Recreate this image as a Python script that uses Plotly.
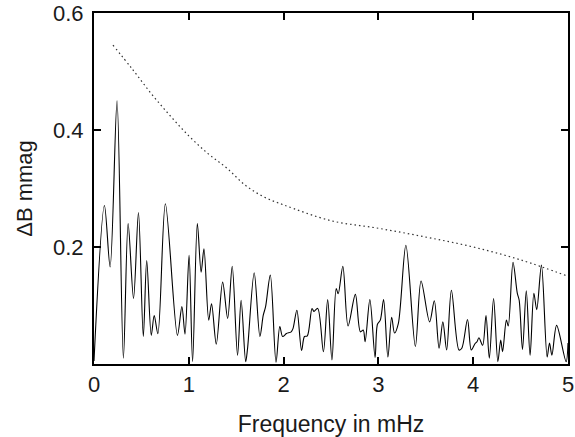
import plotly.graph_objects as go

# Amplitude spectrum (frequency in mHz, amplitude in mmag), traced extrema
freq = [0.0, 0.11, 0.17, 0.243, 0.31, 0.36, 0.417, 0.469, 0.52, 0.556, 0.604, 0.635, 0.674,
        0.753, 0.88, 0.927, 0.96, 1.003, 1.04, 1.09, 1.13, 1.16, 1.21, 1.24, 1.29,
        1.357, 1.41, 1.458, 1.514, 1.552, 1.60, 1.62, 1.69, 1.75, 1.785, 1.81, 1.86,
        1.92, 1.96, 1.99, 2.03, 2.08, 2.10, 2.14, 2.19, 2.22, 2.25, 2.30, 2.32, 2.36,
        2.42, 2.465, 2.51, 2.555, 2.576, 2.625, 2.68, 2.757, 2.81, 2.84, 2.86, 2.91,
        2.965, 2.99, 3.02, 3.055, 3.10, 3.14, 3.17, 3.21, 3.29, 3.39, 3.45, 3.54,
        3.59, 3.64, 3.68, 3.72, 3.77, 3.85, 3.88, 3.94, 3.98, 4.02, 4.04, 4.06, 4.10,
        4.135, 4.17, 4.215, 4.26, 4.29, 4.31, 4.35, 4.37, 4.42, 4.465, 4.485, 4.52,
        4.56, 4.60, 4.64, 4.67, 4.72, 4.78, 4.805, 4.83, 4.88, 4.98, 5.0]
amp = [0.005, 0.271, 0.166, 0.450, 0.010, 0.240, 0.112, 0.259, 0.047, 0.177, 0.049, 0.083, 0.052,
       0.274, 0.049, 0.098, 0.051, 0.186, 0.004, 0.240, 0.157, 0.197, 0.075, 0.103, 0.034,
       0.140, 0.078, 0.167, 0.015, 0.109, 0.004, 0.027, 0.156, 0.047, 0.083, 0.098, 0.152,
       0.003, 0.064, 0.047, 0.052, 0.055, 0.061, 0.092, 0.023, 0.047, 0.048, 0.095, 0.090, 0.095,
       0.021, 0.110, 0.007, 0.129, 0.120, 0.167, 0.065, 0.119, 0.055, 0.058, 0.038, 0.110,
       0.011, 0.068, 0.075, 0.110, 0.012, 0.080, 0.053, 0.069, 0.203, 0.030, 0.142, 0.072,
       0.108, 0.027, 0.072, 0.024, 0.126, 0.024, 0.027, 0.076, 0.024, 0.035, 0.038, 0.045, 0.032,
       0.083, 0.010, 0.112, 0.004, 0.041, 0.021, 0.075, 0.065, 0.174, 0.121, 0.109, 0.025,
       0.125, 0.015, 0.121, 0.093, 0.169, 0.012, 0.036, 0.015, 0.066, 0.004, 0.036]

# Significance threshold (dotted)
thr_freq = [0.2, 0.4, 0.6, 0.8, 1.0, 1.2, 1.4, 1.6, 1.8, 2.0, 2.5, 3.0, 3.5, 4.0, 4.5, 5.0]
thr_amp = [0.545, 0.505, 0.463, 0.425, 0.39, 0.36, 0.335, 0.305, 0.285, 0.272, 0.245,
           0.232, 0.217, 0.200, 0.178, 0.150]

x_ticks = [0, 1, 2, 3, 4, 5]
y_ticks = [0.2, 0.4, 0.6]

fig = go.Figure()
fig.add_trace(go.Scatter(x=freq, y=amp, mode="lines",
                         line=dict(color="black", width=1.1, shape="spline", smoothing=0.9),
                         showlegend=False, hoverinfo="skip"))
fig.add_trace(go.Scatter(x=thr_freq, y=thr_amp, mode="lines",
                         line=dict(color="#333333", width=1.2, dash="1.5px,3px", shape="spline"),
                         showlegend=False, hoverinfo="skip"))

fam = "Liberation Sans, Arial, sans-serif"
tick_font = dict(family=fam, size=22, color="#1a1a1a")
xtitle_font = dict(family=fam, size=23, color="#1a1a1a")
ytitle_font = dict(family=fam, size=22, color="#1a1a1a")
fig.update_layout(
    width=575, height=437,
    margin=dict(l=94, r=1, t=12, b=73),
    paper_bgcolor="white", plot_bgcolor="white",
    font=tick_font,
    xaxis=dict(range=[0, 5], tickvals=x_ticks, ticktext=[str(v) for v in x_ticks],
               ticks="inside", ticklen=7, tickwidth=1.5, tickcolor="black",
               showline=True, linecolor="black", linewidth=2, mirror="ticks",
               showgrid=False, zeroline=False, ticklabeloverflow="allow",
               title=dict(text="Frequency in mHz", standoff=20, font=xtitle_font),
               tickfont=tick_font),
    yaxis=dict(range=[0, 0.6], tickvals=y_ticks, ticktext=["0.2", "0.4", "0.6"],
               ticks="inside", ticklen=7, tickwidth=1.5, tickcolor="black",
               showline=True, linecolor="black", linewidth=2, mirror="ticks",
               showgrid=False, zeroline=False, ticklabeloverflow="allow",
               ticklabelstandoff=4,
               title=dict(text="ΔB mmag", standoff=14, font=ytitle_font),
               tickfont=tick_font),
)

fig.write_html("out.html")
